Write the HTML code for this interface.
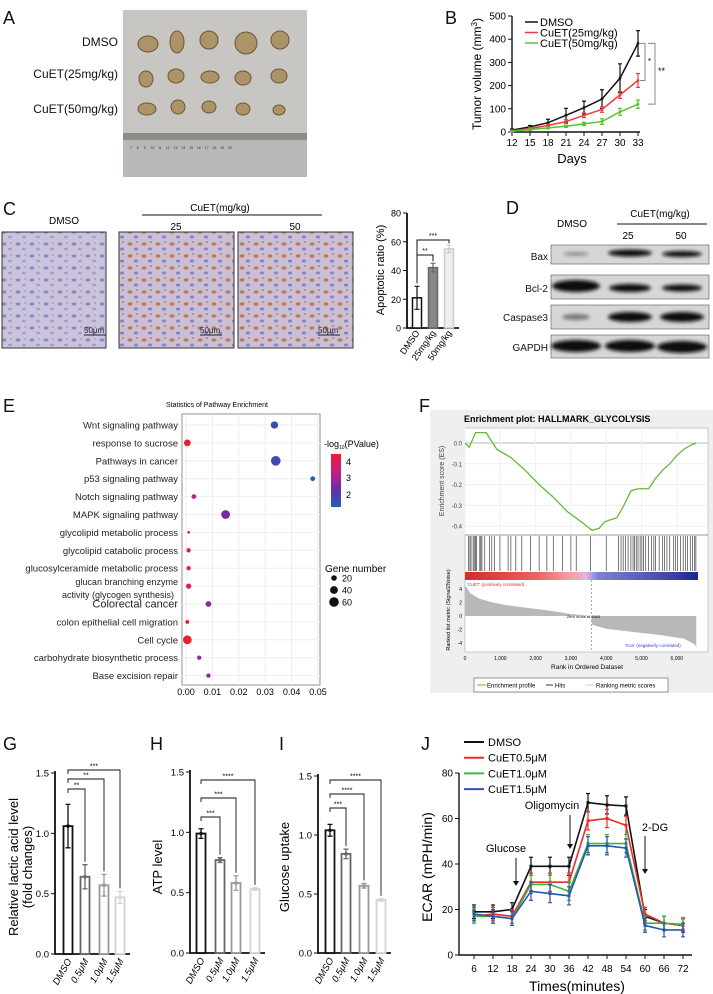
<!DOCTYPE html>
<html><head><meta charset="utf-8"><style>
html,body{margin:0;padding:0;background:#fff}
svg{display:block;font-family:"Liberation Sans",Arial,sans-serif}
</style></head><body>
<svg id="fig" width="713" height="994" viewBox="0 0 713 994">
<defs>
<pattern id="ihc1" width="14" height="12" patternUnits="userSpaceOnUse"><rect width="14" height="12" fill="#c9c4dc"/><ellipse cx="4" cy="4" rx="2.5" ry="1.6" fill="#8f86c4"/><ellipse cx="10" cy="9" rx="2" ry="1.4" fill="#a99cc9"/><ellipse cx="11" cy="3" rx="1.2" ry="1" fill="#c0a0a8"/></pattern>
<pattern id="ihc2" width="14" height="12" patternUnits="userSpaceOnUse"><rect width="14" height="12" fill="#cbbfd4"/><ellipse cx="4" cy="4" rx="2.5" ry="1.8" fill="#c07a60"/><ellipse cx="10" cy="9" rx="2.2" ry="1.5" fill="#8a84c6"/><ellipse cx="11" cy="2" rx="1.3" ry="1" fill="#b98c8a"/></pattern>
<filter id="blur"><feGaussianBlur stdDeviation="1.8"/></filter>
</defs>
<g font-size="18" fill="#111">
<text x="3" y="24">A</text>
<text x="445" y="24">B</text>
<text x="3" y="215">C</text>
<text x="506" y="214">D</text>
<text x="3" y="412">E</text>
<text x="419" y="412">F</text>
<text x="3" y="750">G</text>
<text x="150" y="750">H</text>
<text x="279" y="750">I</text>
<text x="421" y="750">J</text>
</g>
<g>
<rect x="123" y="10" width="184" height="167" fill="#c8c6c3"/>
<rect x="123" y="133" width="184" height="44" fill="#b9b8b6"/>
<rect x="123" y="133" width="184" height="7" fill="#8e8c88"/>
<text x="130" y="149" font-size="3.5" fill="#333">7 &#160;&#160;&#160; 8 &#160;&#160;&#160; 9 &#160;&#160;&#160; 10 &#160;&#160; 11 &#160;&#160; 12 &#160;&#160; 13 &#160;&#160; 14 &#160;&#160; 15 &#160;&#160; 16 &#160;&#160; 17 &#160;&#160; 18 &#160;&#160; 19 &#160;&#160; 20</text>
<g fill="#ad9368" stroke="#6c5535" stroke-width="1">
<ellipse cx="148" cy="44" rx="10" ry="8"/><ellipse cx="177" cy="42" rx="7" ry="11"/><ellipse cx="209" cy="40" rx="9" ry="9"/><ellipse cx="246" cy="43" rx="11" ry="11"/><ellipse cx="280" cy="40" rx="9" ry="9"/>
<ellipse cx="146" cy="79" rx="7" ry="8"/><ellipse cx="176" cy="76" rx="8" ry="7"/><ellipse cx="210" cy="77" rx="9" ry="6"/><ellipse cx="243" cy="78" rx="8" ry="7"/><ellipse cx="279" cy="76" rx="8" ry="7"/>
<ellipse cx="147" cy="109" rx="9" ry="6"/><ellipse cx="178" cy="107" rx="7" ry="7"/><ellipse cx="209" cy="107" rx="7" ry="6"/><ellipse cx="243" cy="109" rx="7" ry="6"/><ellipse cx="279" cy="110" rx="6" ry="5"/>
</g></g>
<g font-size="12" text-anchor="end" fill="#111">
<text x="118" y="46">DMSO</text>
<text x="118" y="78">CuET(25mg/kg)</text>
<text x="118" y="113">CuET(50mg/kg)</text>
</g>
<g>
<text x="64" y="224" font-size="10" text-anchor="middle">DMSO</text>
<text x="220" y="211" font-size="10" text-anchor="middle">CuET(mg/kg)</text>
<line x1="142" y1="215" x2="322" y2="215" stroke="#111"/>
<text x="176" y="230" font-size="10" text-anchor="middle">25</text>
<text x="295" y="230" font-size="10" text-anchor="middle">50</text>
<rect x="2" y="232" width="104" height="116" fill="url(#ihc1)" stroke="#333"/>
<rect x="119" y="232" width="115" height="116" fill="url(#ihc2)" stroke="#333"/>
<rect x="238" y="232" width="115" height="116" fill="url(#ihc2)" stroke="#333"/>
<g font-size="8" fill="#222"><text x="84" y="333">50μm</text><text x="200" y="333">50μm</text><text x="318" y="333">50μm</text></g>
<g stroke="#222"><line x1="84" y1="335" x2="106" y2="335"/><line x1="200" y1="335" x2="222" y2="335"/><line x1="318" y1="335" x2="340" y2="335"/></g>
</g>
<g>
<text x="572" y="227" font-size="10" text-anchor="middle">DMSO</text>
<text x="660" y="217" font-size="10" text-anchor="middle">CuET(mg/kg)</text>
<line x1="617" y1="224" x2="707" y2="224" stroke="#111"/>
<text x="628" y="239" font-size="10" text-anchor="middle">25</text>
<text x="681" y="239" font-size="10" text-anchor="middle">50</text>
<g font-size="10" text-anchor="end" fill="#111">
<text x="548" y="260">Bax</text>
<text x="548" y="292">Bcl-2</text>
<text x="548" y="321">Caspase3</text>
<text x="548" y="351">GAPDH</text>
</g>
<g fill="#d6d6d6" stroke="#555" stroke-width="0.6">
<rect x="551" y="245" width="158" height="19"/><rect x="551" y="275" width="158" height="24"/><rect x="551" y="305" width="158" height="24"/><rect x="551" y="335" width="158" height="23"/>
</g>
<g fill="#111" filter="url(#blur)">
<ellipse cx="576" cy="254" rx="13" ry="1.8" fill="#888"/><ellipse cx="630" cy="253" rx="22" ry="3.5"/><ellipse cx="682" cy="254" rx="20" ry="3"/>
<ellipse cx="576" cy="286" rx="24" ry="6"/><ellipse cx="630" cy="288" rx="21" ry="4"/><ellipse cx="682" cy="288" rx="20" ry="3.5"/>
<ellipse cx="576" cy="317" rx="14" ry="3" fill="#777"/><ellipse cx="630" cy="317" rx="22" ry="5"/><ellipse cx="682" cy="317" rx="22" ry="5"/>
<ellipse cx="576" cy="346" rx="25" ry="6"/><ellipse cx="630" cy="346" rx="25" ry="6"/><ellipse cx="682" cy="347" rx="25" ry="6"/>
</g></g>
<g>
<rect x="430" y="410" width="283" height="283" fill="#efefef"/>
<text x="464" y="422" font-size="9" font-weight="bold">Enrichment plot: HALLMARK_GLYCOLYSIS</text>
<rect x="465" y="428" width="243" height="224" fill="#fff" stroke="#aaa" stroke-width="0.6"/>
</g>
</svg>
<script>
const NS='http://www.w3.org/2000/svg';
const svg=document.getElementById('fig');
function mk(tag,a){const e=document.createElementNS(NS,tag);for(const k in a)e.setAttribute(k,a[k]);svg.appendChild(e);return e;}
function tx(x,y,s,a){const e=mk('text',Object.assign({x:x,y:y},a||{}));e.textContent=s;return e;}

/* ---------- Panel B data ---------- */
const bDays=[12,15,18,21,24,27,30,33];
const bDmso=[8,22,40,72,105,142,232,382];
const bDmsoErr=[5,6,15,30,28,40,62,55];
const b25=[5,15,28,45,72,97,160,222];
const b25Err=[3,5,6,8,10,12,15,30];
const b50=[3,10,18,25,35,45,87,120];
const b50Err=[2,3,4,5,7,12,15,18];
const bYTicks=[0,100,200,300,400,500];
const bSeriesNames=['DMSO','CuET(25mg/kg)','CuET(50mg/kg)'];

/* ---------- Panel C bar data ---------- */
const cCats=['DMSO','25mg/kg','50mg/kg'];
const cVals=[21,42,55];
const cErr=[8,3,2.5];
const cYTicks=[0,20,40,60,80];

/* ---------- Panel E data ---------- */
const eCats=['Wnt signaling pathway','response to sucrose','Pathways in cancer','p53 signaling pathway','Notch signaling pathway','MAPK signaling pathway','glycolipid metabolic process','glycolipid catabolic process','glucosylceramide metabolic process','glucan branching enzyme|activity (glycogen synthesis)','Colorectal cancer','colon epithelial cell migration','Cell cycle','carbohydrate biosynthetic process','Base excision repair'];
const ePval=[0.0335,0.0005,0.034,0.048,0.003,0.015,0.001,0.001,0.001,0.001,0.0085,0.0005,0.0005,0.005,0.0085];
const eNegLog=[1.5,4.2,1.5,1.2,3.0,2.2,3.5,3.8,3.8,3.6,2.4,4.0,4.2,2.7,2.5];
const eGenes=[35,30,60,15,15,50,5,12,12,18,22,10,50,12,12];
const eXTicks=[0,0.01,0.02,0.03,0.04,0.05];

/* ---------- Panel F data ---------- */
const fRank=[0,120,300,600,900,1300,1700,2100,2500,2900,3300,3600,3800,3950,4100,4300,4500,4700,4900,5200,5400,5600,5800,6000,6200,6400,6550];
const fES=[0,-0.02,0.05,0.05,-0.03,-0.07,-0.13,-0.2,-0.26,-0.33,-0.38,-0.42,-0.41,-0.38,-0.37,-0.36,-0.3,-0.23,-0.22,-0.22,-0.17,-0.13,-0.1,-0.06,-0.03,-0.01,0];
const fHits=[100,140,170,230,260,300,330,420,450,480,560,700,760,830,990,1220,1300,1440,1610,1860,2100,2320,2500,2760,3000,3150,3550,4000,4350,4420,4480,4550,4620,4700,4760,4800,4850,4900,4960,5010,5060,5120,5200,5280,5350,5400,5500,5600,5650,5720,5800,5900,5960,6020,6100,6180,6250,6300,6380,6450,6500,6540];
const fMetricRank=[0,150,400,800,1200,1800,2400,3000,3583,3600,4000,4800,5600,6200,6500,6550];
const fMetricVal=[4.6,3.4,2.6,2.0,1.6,1.2,0.8,0.3,0,-1.3,-1.9,-2.4,-2.9,-3.4,-4.2,-4.6];
const fXTicks=[0,1000,2000,3000,4000,5000,6000];
const fEsTicks=[0,-0.1,-0.2,-0.3,-0.4];

/* ---------- Panels G/H/I data ---------- */
const gCats=['DMSO','0.5μM','1.0μM','1.5μM'];
const gVals=[1.06,0.64,0.57,0.47];
const gErr=[0.18,0.1,0.09,0.05];
const hVals=[0.99,0.77,0.58,0.53];
const hErr=[0.04,0.02,0.06,0.01];
const iVals=[1.04,0.84,0.57,0.45];
const iErr=[0.05,0.04,0.02,0.01];
const barYTicks=[0,0.5,1.0,1.5];

/* ---------- Panel J data ---------- */
const jTimes=[6,12,18,24,30,36,42,48,54,60,66,72];
const jDmso=[19,19,20,39,39,39,67,66,65.5,17,14,13];
const j05=[17,18,17,32,32,32,59,60,57,18,14,13];
const j10=[17,17,16,31,31,28,49,49,49,14,14,13.5];
const j15=[18,17,16,28,27,26,48,48,47,13,11,11];
const jErr=[3,3,3,4,4,4,4,4,4,3,3,3];
const jYTicks=[0,20,40,60,80];
const jNames=['DMSO','CuET0.5μM','CuET1.0μM','CuET1.5μM'];

/* ===== Panel B ===== */
(function(){
  const bx=d=>512+(d-bDays[0])*(126/21);
  const by=v=>132-v*0.232;
  let ax=mk('path',{d:'M512 16V132H640',fill:'none',stroke:'#111','stroke-width':1.4});
  
  
  bYTicks.forEach(t=>{
    mk('line',{x1:508,y1:by(t),x2:512,y2:by(t),stroke:'#111'});
    const l=tx(506,by(t)+3.5,String(t),{'font-size':10,'text-anchor':'end'});
    
    
  });
  bDays.forEach(d=>{
    mk('line',{x1:bx(d),y1:132,x2:bx(d),y2:136,stroke:'#111'});
    const l=tx(bx(d),146,String(d),{'font-size':10,'text-anchor':'middle'});
    
    
  });
  const xt=tx(572,163,'Days',{'font-size':13,'text-anchor':'middle'});
  
  
  const yt=tx(0,0,'',{'font-size':12,'text-anchor':'middle',transform:'translate(481,74) rotate(-90)'});
  yt.innerHTML='Tumor volume (mm<tspan dy="-4" font-size="8">3</tspan><tspan dy="4">)</tspan>';
  
  
  const series=[[bDmso,bDmsoErr,'#111'],[b25,b25Err,'#ee3b3b'],[b50,b50Err,'#5ac32f']];
  series.forEach((s,si)=>{
    const p=mk('polyline',{points:bDays.map((d,i)=>bx(d)+','+by(s[0][i])).join(' '),fill:'none',stroke:s[2],'stroke-width':1.5});
    
    
    bDays.forEach((d,i)=>{
      const x=bx(d),v=s[0][i],e=s[1][i];
      const eb=mk('path',{d:`M${x} ${by(v-e)}V${by(v+e)}M${x-2} ${by(v-e)}h4M${x-2} ${by(v+e)}h4`,stroke:s[2],'stroke-width':1.2});
      
      
      const pt=mk('circle',{cx:x,cy:by(v),r:1.4,fill:s[2]});
      
      
    });
    const ly=22+si*10.5;
    const ll=mk('line',{x1:525,y1:ly,x2:538,y2:ly,stroke:s[2],'stroke-width':1.5});
    
    
    const lt=tx(540,ly+4,bSeriesNames[si],{'font-size':11});
    
    
  });
  const last=bDays.length-1;
  const br1=mk('path',{d:`M640 ${by(bDmso[last])}H645V${by(b25[last])}H640`,fill:'none',stroke:'#888'});
  
  
  const br2=mk('path',{d:`M648 ${by(bDmso[last])}H655V${by(b50[last])}H648`,fill:'none',stroke:'#888'});
  
  
  tx(648,64,'*',{'font-size':8});
  tx(658,74,'**',{'font-size':9});
})();

/* ===== Panel C bars ===== */
(function(){
  const cy=v=>328-v*(115/80);
  const cx=i=>417+i*16;
  const ax=mk('path',{d:'M407 213V328H459',fill:'none',stroke:'#111','stroke-width':1.8});
  
  
  cYTicks.forEach(t=>{
    mk('line',{x1:403,y1:cy(t),x2:407,y2:cy(t),stroke:'#111'});
    const l=tx(401,cy(t)+3.5,String(t),{'font-size':9,'text-anchor':'end'});
    
    
  });
  const yt=tx(0,0,'Apoptotic ratio (%)',{'font-size':11,'text-anchor':'middle',transform:'translate(384,270) rotate(-90)'});
  
  
  const strokes=['#111','#666','#ccc'],fills=['#fff','#888','#eee'];
  cVals.forEach((v,i)=>{
    const b=mk('rect',{x:cx(i)-4.5,y:cy(v),width:9,height:328-cy(v),fill:fills[i],stroke:strokes[i],'stroke-width':1.5});
    
    
    const e=mk('path',{d:`M${cx(i)} ${cy(v-cErr[i])}V${cy(v+cErr[i])}M${cx(i)-2.5} ${cy(v+cErr[i])}h5M${cx(i)-2.5} ${cy(v-cErr[i])}h5`,stroke:strokes[i],'stroke-width':1.2});
    
    
    const l=tx(0,0,cCats[i],{'font-size':9,'text-anchor':'end',transform:`translate(${cx(i)+3},333) rotate(-55)`});
    
    
  });
  mk('path',{d:`M${cx(0)} ${cy(cVals[0]+cErr[0])-3}V255H${cx(1)}V${cy(cVals[1]+cErr[1])-2}`,fill:'none',stroke:'#111'});
  tx(cx(0)+8,253,'**',{'font-size':7,'text-anchor':'middle'});
  mk('path',{d:`M${cx(0)} 255V240H${cx(2)}V${cy(cVals[2]+cErr[2])-2}`,fill:'none',stroke:'#111'});
  tx(cx(1),238,'***',{'font-size':7,'text-anchor':'middle'});
})();

/* ===== Panel E dot plot ===== */
(function(){
  const ex=v=>186+v*(132/0.05);
  const rowY=i=>425+i*17.9;
  tx(217,407,'Statistics of Pathway Enrichment',{'font-size':7,'text-anchor':'middle'});
  const box=mk('rect',{x:182,y:414,width:138,height:271,fill:'#fff',stroke:'#777','stroke-width':0.8});
  
  
  eXTicks.forEach(t=>{
    mk('line',{x1:ex(t),y1:414,x2:ex(t),y2:685,stroke:'#eee'});
    const l=tx(ex(t),695,t.toFixed(2),{'font-size':9,'text-anchor':'middle'});
    
    
  });
  function col(v){
    const stops=[[1,[32,96,192]],[2,[96,48,168]],[3,[192,32,138]],[4,[232,32,46]]];
    v=Math.max(1,Math.min(4,v));
    for(let k=0;k<3;k++){if(v<=stops[k+1][0]){const f=(v-stops[k][0]);const a=stops[k][1],b=stops[k+1][1];return 'rgb('+a.map((c,j)=>Math.round(c+(b[j]-c)*f)).join(',')+')';}}
    return 'rgb(232,32,46)';
  }
  eCats.forEach((c,i)=>{
    const y=rowY(i);
    mk('line',{x1:182,y1:y,x2:320,y2:y,stroke:'#eee'});
    const parts=c.split('|');
    if(parts.length>1){
      const l1=tx(178,y-1,parts[0],{'font-size':9,'text-anchor':'end',fill:'#222'});
      
      
      const l2=tx(174,y+12,parts[1],{'font-size':9,'text-anchor':'end',fill:'#222'});
      
      
    }else{
      const l=tx(178,y+3.5,c,{'font-size':(i===10?11:9.5),'text-anchor':'end',fill:'#222'});
      
      
    }
    const d=mk('circle',{cx:ex(ePval[i]),cy:y,r:Math.sqrt(eGenes[i])*0.62,fill:col(eNegLog[i])});
    
    
  });
  tx(324,447,'-log',{'font-size':9}).innerHTML='-log<tspan font-size="5" dy="2">10</tspan><tspan dy="-2">(PValue)</tspan>';
  const gr=mk('linearGradient',{id:'pg',x1:0,y1:0,x2:0,y2:1});
  [['0','#ee1c2e'],['0.35','#c0208a'],['0.7','#6030a8'],['1','#2060c0']].forEach(s=>{const st=document.createElementNS(NS,'stop');st.setAttribute('offset',s[0]);st.setAttribute('stop-color',s[1]);gr.appendChild(st);});
  const cb=mk('rect',{x:331,y:454,width:10,height:53,fill:'url(#pg)'});
  
  
  tx(346,465,'4',{'font-size':9});tx(346,481,'3',{'font-size':9});tx(346,498,'2',{'font-size':9});
  tx(325,572,'Gene number',{'font-size':10});
  [[20,578],[40,590],[60,602]].forEach(g=>{
    const c=mk('circle',{cx:334,cy:g[1],r:Math.sqrt(g[0])*0.62,fill:'#111'});
    
    
    tx(342,g[1]+3.5,String(g[0]),{'font-size':9});
  });
})();

/* ===== Panel F GSEA ===== */
(function(){
  const fx=r=>465+r*(233/6600);
  const fy=v=>443-v*208;
  fEsTicks.forEach(t=>{
    mk('line',{x1:465,y1:fy(t),x2:708,y2:fy(t),stroke:t===0?'#bbb':'#f0f0f0'});
    tx(462,fy(t)+2.5,t.toFixed(1),{'font-size':6,'text-anchor':'end',fill:'#444'});
  });
  fXTicks.forEach(t=>mk('line',{x1:fx(t),y1:428,x2:fx(t),y2:535,stroke:'#f0f0f0'}));
  const es=mk('polyline',{points:fRank.map((r,i)=>fx(r)+','+fy(fES[i])).join(' '),fill:'none',stroke:'#66bb33','stroke-width':1.3});
  
  
  tx(0,0,'Enrichment score (ES)',{'font-size':7,'text-anchor':'middle',fill:'#444',transform:'translate(444,481) rotate(-90)'});
  mk('line',{x1:465,y1:535,x2:708,y2:535,stroke:'#999'});
  fHits.forEach(h=>{
    const l=mk('line',{x1:fx(h),y1:536,x2:fx(h),y2:571,stroke:'#222','stroke-width':0.6});
    
    
  });
  const hg=mk('linearGradient',{id:'hg',x1:0,y1:0,x2:1,y2:0});
  [['0','#d42a2a'],['0.3','#ea6060'],['0.45','#f2a0a0'],['0.52','#e6b0dc'],['0.57','#7b84d0'],['0.85','#4a4aa8'],['1','#1a2590']].forEach(s=>{const st=document.createElementNS(NS,'stop');st.setAttribute('offset',s[0]);st.setAttribute('stop-color',s[1]);hg.appendChild(st);});
  const hb=mk('rect',{x:465,y:572,width:233,height:8,fill:'url(#hg)'});
  
  
  const my=v=>616-v*6.7;
  const area=mk('polygon',{points:fx(0)+','+my(0)+' '+fMetricRank.map((r,i)=>fx(r)+','+my(fMetricVal[i])).join(' ')+' '+fx(6550)+','+my(0),fill:'#b8b8b8'});
  
  
  mk('line',{x1:fx(3583),y1:580,x2:fx(3583),y2:652,stroke:'#aaa','stroke-dasharray':'2 2'});
  tx(fx(3583)-8,618,'Zero cross at 3583',{'font-size':4,'text-anchor':'middle'});
  tx(467,586,"'CuET' (positively correlated)",{'font-size':4.5,fill:'#e03030'});
  tx(625,647,"'Con' (negatively correlated)",{'font-size':4.5,fill:'#3040c0'});
  [4,2,0,-2,-4].forEach(t=>tx(462,my(t)+2,String(t),{'font-size':5,'text-anchor':'end'}));
  fXTicks.forEach(t=>{
    const l=tx(fx(t),660,t===0?'0':(t/1000)+',000',{'font-size':5,'text-anchor':'middle'});
    
    
  });
  tx(587,669,'Rank in Ordered Dataset',{'font-size':6.5,'text-anchor':'middle'});
  tx(0,0,'Ranked list metric (Signal2Noise)',{'font-size':5.5,'text-anchor':'middle',transform:'translate(450,610) rotate(-90)'});
  const lg=mk('rect',{x:474,y:678,width:194,height:14,fill:'#fff',stroke:'#555','stroke-width':0.6});
  
  
  mk('line',{x1:477,y1:685,x2:486,y2:685,stroke:'#66bb33'});
  tx(487,687.5,'Enrichment profile',{'font-size':6});
  mk('line',{x1:546,y1:685,x2:553,y2:685,stroke:'#333'});
  tx(555,687.5,'Hits',{'font-size':6});
  mk('line',{x1:585,y1:685,x2:594,y2:685,stroke:'#ccc'});
  tx(596,687.5,'Ranking metric scores',{'font-size':6});
})();

/* ===== Panels G/H/I ===== */
function barPanel(key,axX,y0,y15,vals,errs,brY,brLabels,cxs,title){
  const yy=v=>y0-v*(y0-y15)/1.5;
  const strokes=['#111','#666','#999','#d4d4d4'];
  const ax=mk('path',{d:`M${axX} ${y15-2}V${y0}H${cxs[3]+10}`,fill:'none',stroke:'#111','stroke-width':1.8});
  
  
  barYTicks.forEach(t=>{
    mk('line',{x1:axX-4,y1:yy(t),x2:axX,y2:yy(t),stroke:'#111'});
    const l=tx(axX-6,yy(t)+3.5,t.toFixed(1),{'font-size':9.5,'text-anchor':'end'});
    
    
  });
  vals.forEach((v,i)=>{
    const b=mk('rect',{x:cxs[i]-4.5,y:yy(v),width:9,height:y0-yy(v),fill:'#fff',stroke:strokes[i],'stroke-width':1.8});
    
    
    const e=mk('path',{d:`M${cxs[i]} ${yy(v-errs[i])}V${yy(v+errs[i])}M${cxs[i]-2.5} ${yy(v+errs[i])}h5M${cxs[i]-2.5} ${yy(v-errs[i])}h5`,stroke:strokes[i],'stroke-width':1.3});
    
    
    const d=mk('circle',{cx:cxs[i],cy:yy(v),r:1.8,fill:strokes[i]});
    
    
    const l=tx(0,0,gCats[i],{'font-size':9.5,'text-anchor':'end','font-style':'italic',transform:`translate(${cxs[i]+4},${y0+7}) rotate(-60)`});
    
    
  });
  for(let k=1;k<4;k++){
    const y=brY[k-1];
    const br=mk('path',{d:`M${cxs[0]} ${y+4}V${y}H${cxs[k]}V${yy(vals[k]+errs[k])-3}`,fill:'none',stroke:'#111','stroke-width':0.9});
    
    
    tx((cxs[0]+cxs[k])/2,y-1.5,brLabels[k-1],{'font-size':7,'text-anchor':'middle'});
  }
  title.forEach(t=>{
    const l=tx(0,0,t[0],{'font-size':13,'text-anchor':'middle',transform:`translate(${t[1]},867) rotate(-90)`});
    
    
  });
}
barPanel('g',55,954,773,gVals,gErr,[789,779,770],['**','**','***'],[68,85,104,120],[['Relative lactic acid level',18],['(fold changes)',32]]);
barPanel('h',190,953,772,hVals,hErr,[817,798,780],['***','***','****'],[201,220,236,255],[['ATP level',162]]);
barPanel('i',318,953,776,iVals,iErr,[808,794,780],['***','****','****'],[330,346,364,381],[['Glucose uptake',289]]);

/* ===== Panel J ===== */
(function(){
  const jx=t=>474+(t-6)*(209/66);
  const jy=v=>955-v*(182/80);
  const ax=mk('path',{d:'M459 773V955H692',fill:'none',stroke:'#111','stroke-width':1.4});
  
  
  jYTicks.forEach(t=>{
    mk('line',{x1:455,y1:jy(t),x2:459,y2:jy(t),stroke:'#111'});
    const l=tx(453,jy(t)+3.5,String(t),{'font-size':10,'text-anchor':'end'});
    
    
  });
  jTimes.forEach(t=>{
    mk('line',{x1:jx(t),y1:955,x2:jx(t),y2:959,stroke:'#111'});
    const l=tx(jx(t),972,String(t),{'font-size':10,'text-anchor':'middle'});
    
    
  });
  const xt=tx(577,991,'Times(minutes)',{'font-size':14,'text-anchor':'middle'});
  
  
  const yt=tx(0,0,'ECAR (mPH/min)',{'font-size':14,'text-anchor':'middle',transform:'translate(432,867) rotate(-90)'});
  
  
  const series=[[jDmso,'#111'],[j05,'#ee2b2b'],[j10,'#3cb93c'],[j15,'#2a55b0']];
  series.forEach((s,si)=>{
    const p=mk('polyline',{points:jTimes.map((t,i)=>jx(t)+','+jy(s[0][i])).join(' '),fill:'none',stroke:s[1],'stroke-width':1.6});
    
    
    jTimes.forEach((t,i)=>{
      const x=jx(t),v=s[0][i],e=jErr[i];
      const eb=mk('path',{d:`M${x} ${jy(v-e)}V${jy(v+e)}M${x-2} ${jy(v-e)}h4M${x-2} ${jy(v+e)}h4`,stroke:s[1],'stroke-width':1.2});
      
      
      const pt=mk('rect',{x:x-1.5,y:jy(v)-1.5,width:3,height:3,fill:s[1]});
      
      
    });
    const ly=742+si*15.7;
    const ll=mk('line',{x1:464,y1:ly,x2:484,y2:ly,stroke:s[1],'stroke-width':2});
    
    
    const lt=tx(488,ly+4,jNames[si],{'font-size':11});
    
    
  });
  function arrow(x,y1,y2,label,lx,ly){
    const a=mk('path',{d:`M${x} ${y1}V${y2-4}`,stroke:'#111','stroke-width':1});
    
    
    mk('path',{d:`M${x-3} ${y2-5}L${x} ${y2}L${x+3} ${y2-5}Z`,fill:'#111'});
    const t=tx(lx,ly,label,{'font-size':11,'text-anchor':'middle'});
    
    
  }
  arrow(516,858,886,'Glucose',506,852);
  arrow(570,815,849,'Oligomycin',552,809);
  arrow(645,836,874,'2-DG',655,831);
})();
</script>
</body></html>
